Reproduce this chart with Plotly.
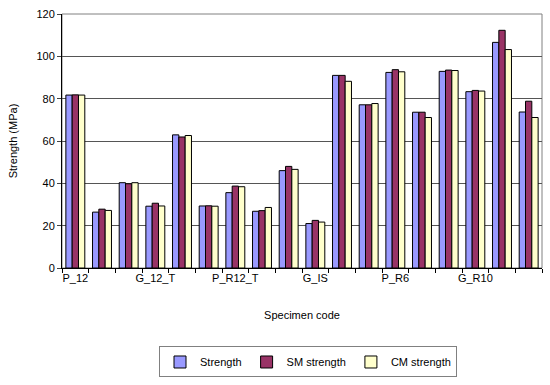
import plotly.graph_objects as go

specimen_idx = list(range(18))
tick_positions = [0, 3, 6, 9, 12, 15]
tick_labels = ["P_12", "G_12_T", "P_R12_T", "G_IS", "P_R6", "G_R10"]

strength = [81.7, 26.4, 40.3, 29.2, 62.9, 29.3, 35.6, 26.8, 46.0, 21.0, 91.0, 77.1, 92.4, 73.6, 92.9, 83.3, 106.6, 73.7]
sm_strength = [81.8, 27.8, 39.8, 30.6, 61.9, 29.4, 38.7, 27.1, 48.0, 22.5, 91.0, 77.1, 93.7, 73.6, 93.5, 83.9, 112.3, 78.8]
cm_strength = [81.7, 27.2, 40.3, 29.3, 62.6, 29.2, 38.4, 28.6, 46.6, 21.7, 88.2, 77.7, 92.7, 71.1, 93.3, 83.6, 103.2, 71.1]

series = [
    ("Strength", strength, "#9999FF"),
    ("SM strength", sm_strength, "#993366"),
    ("CM strength", cm_strength, "#FFFFCC"),
]

fig = go.Figure()
for name, vals, col in series:
    fig.add_trace(go.Bar(
        x=specimen_idx, y=vals, name=name,
        marker=dict(color=col, line=dict(color="black", width=1)),
    ))

fig.update_layout(
    width=550, height=385,
    margin=dict(l=62, r=8, t=10, b=116),
    paper_bgcolor="white", plot_bgcolor="white",
    font=dict(family="Liberation Sans, Arial, sans-serif", size=11, color="black"),
    barmode="group", bargap=0.29, bargroupgap=0,
    showlegend=True,
    legend=dict(
        orientation="h", x=0.5125, xanchor="center", y=-0.309, yanchor="top",
        bordercolor="#808080", borderwidth=1, bgcolor="white",
        font=dict(size=11), itemwidth=30,
    ),
    xaxis=dict(
        range=[-0.5, 17.5],
        tickmode="array", tickvals=tick_positions, ticktext=tick_labels,
        ticks="", showgrid=False, showline=True, linecolor="black", linewidth=1,
        minor=dict(ticks="outside", tick0=0.5, dtick=1, ticklen=4, tickcolor="black", showgrid=False),
        title=dict(text="Specimen code", font=dict(size=11), standoff=28),
        mirror=False, zeroline=False,
    ),
    yaxis=dict(
        range=[0, 120], dtick=20, showgrid=True, gridcolor="#555555", gridwidth=1,
        showline=True, linecolor="black", linewidth=1, ticks="outside", ticklen=4,
        title=dict(text="Strength (MPa)", font=dict(size=11), standoff=16),
        zeroline=False,
    ),
)
fig.add_shape(type="rect", xref="paper", yref="paper", x0=0, x1=1, y0=0, y1=1,
              line=dict(color="#808080", width=1), layer="below")

fig.write_html("out.html", config={"displayModeBar": False},
               post_script="document.body.style.margin='0';document.body.style.overflow='hidden';")
